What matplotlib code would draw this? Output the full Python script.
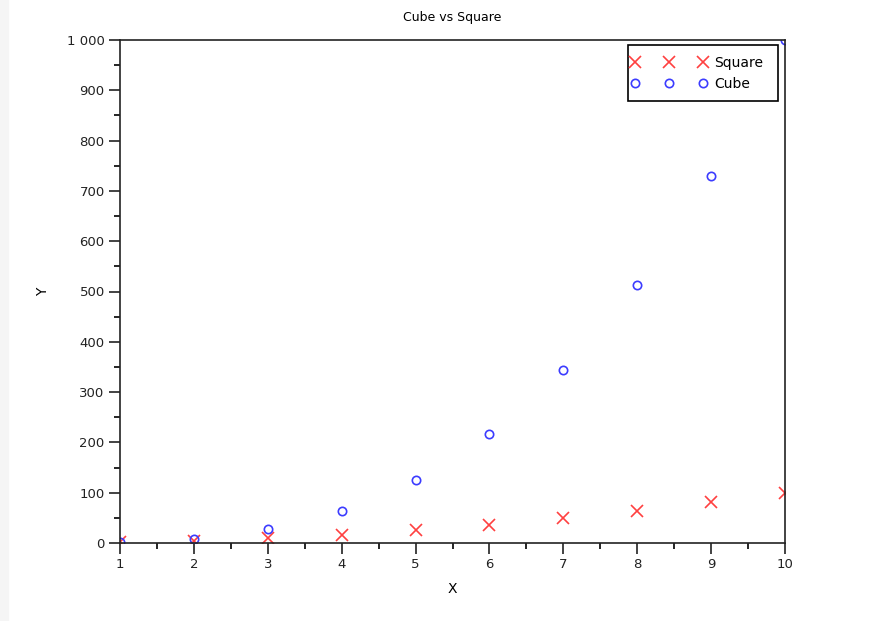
import numpy as np
import matplotlib
matplotlib.use("Agg")
import matplotlib.pyplot as plt
from matplotlib.ticker import MultipleLocator, FuncFormatter
from matplotlib.patches import Rectangle

# data
x = [1, 2, 3, 4, 5, 6, 7, 8, 9, 10]
square = [1, 4, 9, 16, 25, 36, 49, 64, 81, 100]
cube = [1, 8, 27, 64, 125, 216, 343, 512, 729, 1000]

fig = plt.figure(figsize=(8.8, 6.21), dpi=100)
fig.patches.append(Rectangle((0, 0), 8 / 880, 1, transform=fig.transFigure,
                             color="#f5f5f5", zorder=0))
ax = fig.add_axes([120 / 880, 1 - 543 / 621, 665 / 880, 503 / 621])

ax.plot(x, square, linestyle="none", marker="x", color="#ff4040",
        markersize=9, markeredgewidth=1.2, label="Square")
ax.plot(x, cube, linestyle="none", marker="o", color="#3c3cff",
        markerfacecolor="none", markersize=6, markeredgewidth=1.2, label="Cube")

ax.set_xlim(1, 10)
ax.set_ylim(0, 1000)
ax.xaxis.set_major_locator(MultipleLocator(1))
ax.xaxis.set_minor_locator(MultipleLocator(0.5))
ax.yaxis.set_major_locator(MultipleLocator(100))
ax.yaxis.set_minor_locator(MultipleLocator(50))
ax.yaxis.set_major_formatter(FuncFormatter(lambda v, p: f"{int(v):,}".replace(",", " ")))
ax.tick_params(which="major", direction="out", length=8, width=1.2,
               labelsize=9.5, colors="#222222", pad=3)
ax.tick_params(which="minor", direction="out", length=4, width=1.2)
for s in ax.spines.values():
    s.set_linewidth(1.2)
    s.set_color("#222222")

ax.set_title("Cube vs Square", fontsize=9, pad=14)
ax.set_xlabel("X", fontsize=10, labelpad=8)
ax.set_ylabel("Y", fontsize=10, labelpad=12)

# legend box drawn by hand, legend itself without frame
ax.add_patch(Rectangle((0.7639, 0.8787), 0.2256, 0.1113, transform=ax.transAxes,
                       facecolor="white", edgecolor="black", linewidth=1.2,
                       clip_on=False, zorder=4))
leg = ax.legend(loc="upper left", numpoints=3, frameon=False, fontsize=10,
                borderpad=0, borderaxespad=0, handlelength=5.49,
                handletextpad=0.48, labelspacing=0.5,
                bbox_to_anchor=(0.7684, 0.968))
leg.set_zorder(5)

fig.savefig("out.png", dpi=100)
